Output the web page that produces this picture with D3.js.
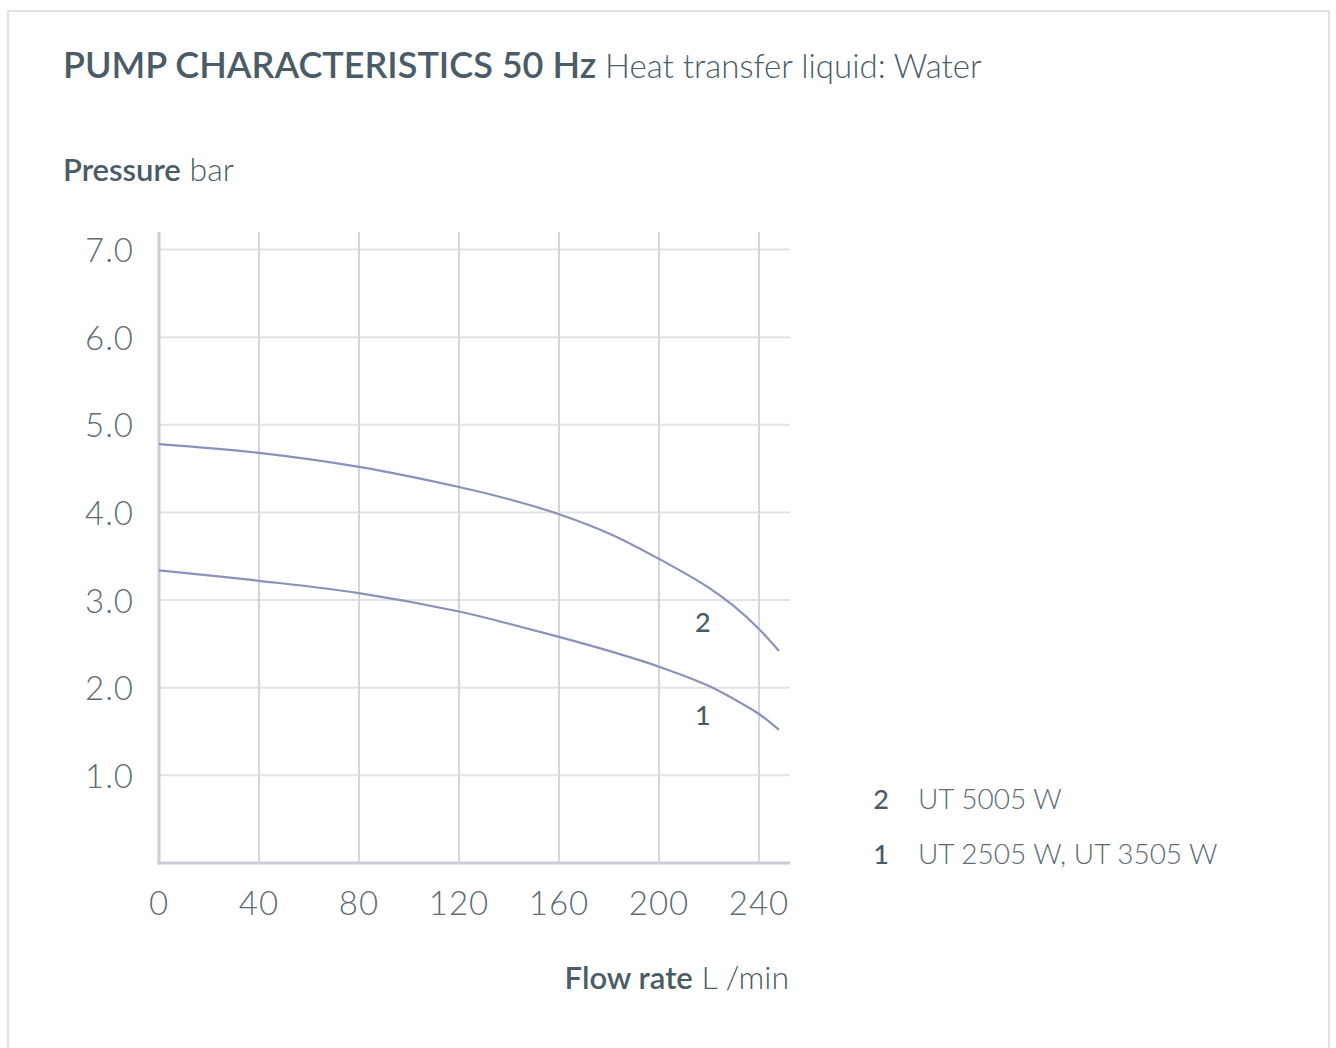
<!DOCTYPE html>
<html>
<head>
<meta charset="utf-8">
<script src="https://cdn.jsdelivr.net/npm/d3@7"></script>
<style>
  body { margin: 0; background: #fff; font-family: Lato, "Open Sans", sans-serif; }
</style>
</head>
<body>
<div id="chart"></div>
<script>
// Flow rate (L/min) sample points
const flow = [0, 40, 80, 120, 140, 160, 180, 200, 220, 230, 240, 248];
// Pressure (bar) for each pump
const pump2 = [4.78, 4.68, 4.52, 4.29, 4.15, 3.98, 3.76, 3.47, 3.14, 2.93, 2.67, 2.42];
const pump1 = [3.34, 3.22, 3.08, 2.87, 2.73, 2.58, 2.42, 2.24, 2.02, 1.87, 1.70, 1.52];
const xTicks = [0, 40, 80, 120, 160, 200, 240];
const yTicks = [1, 2, 3, 4, 5, 6, 7];
const legendKeys = ["2", "1"];
const legendNames = ["UT 5005 W", "UT 2505 W, UT 3505 W"];

const width = 1336;
const height = 1048;
const textColor = "#4a5c67";
const lightText = "#5d6c75";

const svg = d3.select("#chart")
  .append("svg")
  .attr("width", width)
  .attr("height", height);

// Outer frame
svg.append("path")
  .attr("d", "M8,1048 L8,11 L1329,11 L1329,1048")
  .attr("fill", "none")
  .attr("stroke", "#e2e2e2")
  .attr("stroke-width", 2);

// Scales
const x = d3.scaleLinear().domain([0, 252.4]).range([159, 790]);
const y = d3.scaleLinear().domain([0, 7.2]).range([863, 232]);

// Horizontal grid
svg.append("g")
  .selectAll("line")
  .data(yTicks)
  .join("line")
  .attr("x1", x(0))
  .attr("x2", x(252.4))
  .attr("y1", (d) => y(d))
  .attr("y2", (d) => y(d))
  .attr("stroke", "#e1e3e4")
  .attr("stroke-width", 2);

// Vertical grid
svg.append("g")
  .selectAll("line")
  .data(xTicks.slice(1))
  .join("line")
  .attr("x1", (d) => x(d))
  .attr("x2", (d) => x(d))
  .attr("y1", y(0))
  .attr("y2", y(7.2))
  .attr("stroke", "#d4d6d8")
  .attr("stroke-width", 2);

// Axis lines
svg.append("line")
  .attr("x1", x(0)).attr("x2", x(0))
  .attr("y1", y(7.2)).attr("y2", y(0) + 1.5)
  .attr("stroke", "#c9cfd4")
  .attr("stroke-width", 3);
svg.append("line")
  .attr("x1", x(0) - 1.5).attr("x2", x(252.4))
  .attr("y1", y(0)).attr("y2", y(0))
  .attr("stroke", "#c9cfd4")
  .attr("stroke-width", 3);

// Tick labels
svg.append("g")
  .selectAll("text")
  .data(yTicks)
  .join("text")
  .text((d) => d.toFixed(1))
  .attr("x", 134)
  .attr("y", (d) => y(d))
  .attr("dy", "0.38em")
  .attr("text-anchor", "end")
  .style("font-size", "33px")
  .style("letter-spacing", "1px")
  .style("font-weight", 300)
  .style("fill", lightText);

svg.append("g")
  .selectAll("text")
  .data(xTicks)
  .join("text")
  .text((d) => d)
  .attr("x", (d) => x(d))
  .attr("y", 915)
  .attr("text-anchor", "middle")
  .style("font-size", "33px")
  .style("letter-spacing", "1px")
  .style("font-weight", 300)
  .style("fill", lightText);

// Curves
const line = d3.line()
  .x((d, i) => x(flow[i]))
  .y((d) => y(d))
  .curve(d3.curveCatmullRom.alpha(0.5));

[pump2, pump1].forEach((s) => {
  svg.append("path")
    .datum(s)
    .attr("fill", "none")
    .attr("stroke", "#8a91bd")
    .attr("stroke-width", 2.2)
    .attr("d", line);
});

// Curve labels
svg.append("text").text("2")
  .attr("x", x(217.5)).attr("y", 632)
  .attr("text-anchor", "middle")
  .style("font-size", "27px").style("font-weight", 500).style("fill", textColor);
svg.append("text").text("1")
  .attr("x", x(217.5)).attr("y", 725)
  .attr("text-anchor", "middle")
  .style("font-size", "27px").style("font-weight", 500).style("fill", textColor);

// Legend
const legend = svg.append("g");
legend.selectAll("text.key")
  .data(legendKeys)
  .join("text")
  .attr("class", "key")
  .text((d) => d)
  .attr("x", 881)
  .attr("y", (d, i) => 809 + i * 55)
  .attr("text-anchor", "middle")
  .style("font-size", "27px").style("font-weight", 500).style("fill", textColor);
legend.selectAll("text.name")
  .data(legendNames)
  .join("text")
  .attr("class", "name")
  .text((d) => d)
  .attr("x", 918)
  .attr("y", (d, i) => 809 + i * 55)
  .style("font-size", "28px").style("font-weight", 300).style("fill", lightText);

// Title
const title = svg.append("text")
  .attr("x", 63)
  .attr("y", 78)
  .style("fill", textColor);
title.append("tspan").text("PUMP CHARACTERISTICS 50 Hz")
  .style("font-size", "36px").style("font-weight", 600);
title.append("tspan").text(" Heat transfer liquid: Water")
  .style("font-size", "33px").style("font-weight", 300);

// Axis titles
const yTitle = svg.append("text")
  .attr("x", 63)
  .attr("y", 181)
  .style("fill", textColor);
yTitle.append("tspan").text("Pressure")
  .style("font-size", "31px").style("font-weight", 600);
yTitle.append("tspan").text(" bar")
  .style("font-size", "32px").style("font-weight", 300);

const xTitle = svg.append("text")
  .attr("x", 789)
  .attr("y", 989)
  .attr("text-anchor", "end")
  .style("fill", textColor);
xTitle.append("tspan").text("Flow rate")
  .style("font-size", "31px").style("font-weight", 600);
xTitle.append("tspan").text(" L /min")
  .style("font-size", "32px").style("font-weight", 300);
</script>
</body>
</html>
